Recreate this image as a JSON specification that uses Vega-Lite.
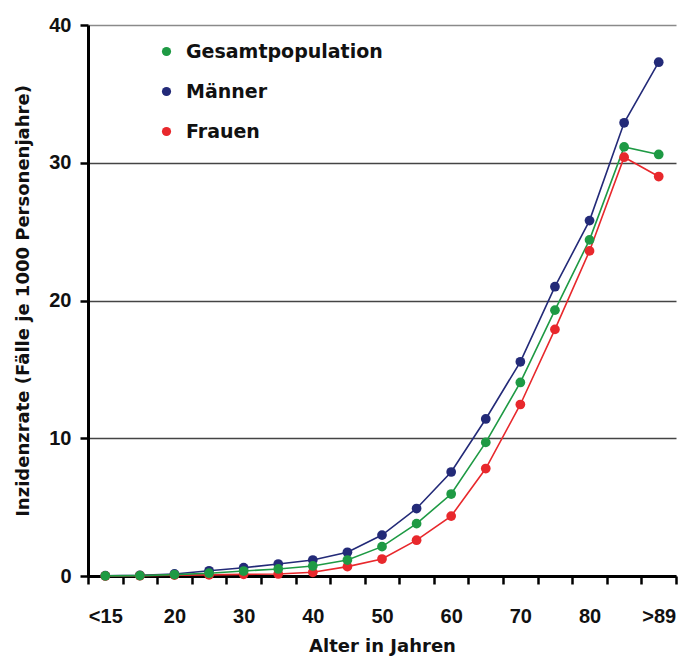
{
  "$schema": "https://vega.github.io/schema/vega-lite/v6.json",
  "width": 588,
  "height": 551,
  "autosize": "none",
  "padding": {"left": 88, "top": 25, "right": 2, "bottom": 84},
  "background": "white",
  "config": {
    "view": {"stroke": null},
    "font": "Liberation Sans"
  },
  "data": {
    "values": [
      {"Alter": 10, "Gruppe": "Männer", "Rate": 0.02},
      {"Alter": 15, "Gruppe": "Männer", "Rate": 0.05},
      {"Alter": 20, "Gruppe": "Männer", "Rate": 0.15},
      {"Alter": 25, "Gruppe": "Männer", "Rate": 0.38},
      {"Alter": 30, "Gruppe": "Männer", "Rate": 0.6},
      {"Alter": 35, "Gruppe": "Männer", "Rate": 0.87},
      {"Alter": 40, "Gruppe": "Männer", "Rate": 1.16},
      {"Alter": 45, "Gruppe": "Männer", "Rate": 1.72},
      {"Alter": 50, "Gruppe": "Männer", "Rate": 2.97},
      {"Alter": 55, "Gruppe": "Männer", "Rate": 4.9},
      {"Alter": 60, "Gruppe": "Männer", "Rate": 7.55},
      {"Alter": 65, "Gruppe": "Männer", "Rate": 11.4},
      {"Alter": 70, "Gruppe": "Männer", "Rate": 15.55},
      {"Alter": 75, "Gruppe": "Männer", "Rate": 21.0},
      {"Alter": 80, "Gruppe": "Männer", "Rate": 25.8},
      {"Alter": 85, "Gruppe": "Männer", "Rate": 32.9},
      {"Alter": 90, "Gruppe": "Männer", "Rate": 37.3},
      {"Alter": 10, "Gruppe": "Frauen", "Rate": 0.0},
      {"Alter": 15, "Gruppe": "Frauen", "Rate": 0.02},
      {"Alter": 20, "Gruppe": "Frauen", "Rate": 0.06},
      {"Alter": 25, "Gruppe": "Frauen", "Rate": 0.08},
      {"Alter": 30, "Gruppe": "Frauen", "Rate": 0.12},
      {"Alter": 35, "Gruppe": "Frauen", "Rate": 0.15},
      {"Alter": 40, "Gruppe": "Frauen", "Rate": 0.27},
      {"Alter": 45, "Gruppe": "Frauen", "Rate": 0.68},
      {"Alter": 50, "Gruppe": "Frauen", "Rate": 1.23},
      {"Alter": 55, "Gruppe": "Frauen", "Rate": 2.6},
      {"Alter": 60, "Gruppe": "Frauen", "Rate": 4.35},
      {"Alter": 65, "Gruppe": "Frauen", "Rate": 7.8},
      {"Alter": 70, "Gruppe": "Frauen", "Rate": 12.45},
      {"Alter": 75, "Gruppe": "Frauen", "Rate": 17.9},
      {"Alter": 80, "Gruppe": "Frauen", "Rate": 23.6},
      {"Alter": 85, "Gruppe": "Frauen", "Rate": 30.4},
      {"Alter": 90, "Gruppe": "Frauen", "Rate": 29.0},
      {"Alter": 10, "Gruppe": "Gesamtpopulation", "Rate": 0.01},
      {"Alter": 15, "Gruppe": "Gesamtpopulation", "Rate": 0.03},
      {"Alter": 20, "Gruppe": "Gesamtpopulation", "Rate": 0.1},
      {"Alter": 25, "Gruppe": "Gesamtpopulation", "Rate": 0.2},
      {"Alter": 30, "Gruppe": "Gesamtpopulation", "Rate": 0.36},
      {"Alter": 35, "Gruppe": "Gesamtpopulation", "Rate": 0.51},
      {"Alter": 40, "Gruppe": "Gesamtpopulation", "Rate": 0.73},
      {"Alter": 45, "Gruppe": "Gesamtpopulation", "Rate": 1.16},
      {"Alter": 50, "Gruppe": "Gesamtpopulation", "Rate": 2.13},
      {"Alter": 55, "Gruppe": "Gesamtpopulation", "Rate": 3.8},
      {"Alter": 60, "Gruppe": "Gesamtpopulation", "Rate": 5.95},
      {"Alter": 65, "Gruppe": "Gesamtpopulation", "Rate": 9.7},
      {"Alter": 70, "Gruppe": "Gesamtpopulation", "Rate": 14.05},
      {"Alter": 75, "Gruppe": "Gesamtpopulation", "Rate": 19.3},
      {"Alter": 80, "Gruppe": "Gesamtpopulation", "Rate": 24.4},
      {"Alter": 85, "Gruppe": "Gesamtpopulation", "Rate": 31.15},
      {"Alter": 90, "Gruppe": "Gesamtpopulation", "Rate": 30.6}
    ]
  },
  "encoding": {
    "x": {
      "field": "Alter",
      "type": "quantitative",
      "scale": {"domain": [7.5, 92.5], "nice": false, "zero": false},
      "axis": {
        "title": "Alter in Jahren",
        "titleFont": "DejaVu Sans",
        "titleFontSize": 18,
        "titleFontWeight": "bold",
        "titleColor": "#111",
        "titlePadding": 11,
        "values": [7.5, 10, 12.5, 17.5, 20, 22.5, 27.5, 30, 32.5, 37.5, 40, 42.5, 47.5, 50, 52.5, 57.5, 60, 62.5, 67.5, 70, 72.5, 77.5, 80, 82.5, 87.5, 90, 92.5],
        "labelExpr": "datum.value == 10 ? '<15' : datum.value == 90 ? '>89' : (datum.value % 10 == 0 ? datum.value : '')",
        "labelOverlap": false,
        "labelFlush": false,
        "labelFont": "Liberation Sans",
        "labelFontSize": 20,
        "labelFontWeight": "bold",
        "labelColor": "#111",
        "labelPadding": 22,
        "grid": false,
        "domainColor": "#000",
        "domainWidth": 3,
        "tickColor": "#000",
        "tickWidth": 2.5,
        "tickSize": 8,
        "tickOpacity": {"condition": {"test": "datum.value % 5 == 0", "value": 0}, "value": 1}
      }
    },
    "y": {
      "field": "Rate",
      "type": "quantitative",
      "scale": {"domain": [0, 40], "nice": false},
      "axis": {
        "title": "Inzidenzrate (Fälle je 1000 Personenjahre)",
        "titleFont": "DejaVu Sans",
        "titleFontSize": 18,
        "titleFontWeight": "bold",
        "titleColor": "#111",
        "titlePadding": 16,
        "values": [0, 10, 20, 30, 40],
        "labelFont": "Liberation Sans",
        "labelFontSize": 20,
        "labelFontWeight": "bold",
        "labelColor": "#111",
        "labelPadding": 9,
        "grid": true,
        "gridColor": {"condition": {"test": "datum.value == 40", "value": "#8a8a8a"}, "value": "#444"},
        "gridWidth": 1.3,
        "domainColor": "#000",
        "domainWidth": 3,
        "tickColor": "#000",
        "tickWidth": 2.5,
        "tickSize": 8
      }
    },
    "color": {
      "field": "Gruppe",
      "type": "nominal",
      "scale": {
        "domain": ["Gesamtpopulation", "Männer", "Frauen"],
        "range": ["#1e9a44", "#232a78", "#e8282c"]
      },
      "legend": {
        "orient": "none",
        "legendX": 69,
        "legendY": 17,
        "title": null,
        "padding": 0,
        "rowPadding": 20,
        "symbolType": "circle",
        "symbolSize": 85,
        "symbolOpacity": 1,
        "symbolStrokeWidth": 0,
        "labelFont": "DejaVu Sans",
        "labelFontSize": 19,
        "labelFontWeight": "bold",
        "labelColor": "#111",
        "labelOffset": 10,
        "labelLimit": 400
      }
    }
  },
  "layer": [
    {
      "mark": {"type": "line", "strokeWidth": 1.6}
    },
    {
      "mark": {"type": "point", "filled": true, "size": 95, "opacity": 1}
    }
  ]
}
